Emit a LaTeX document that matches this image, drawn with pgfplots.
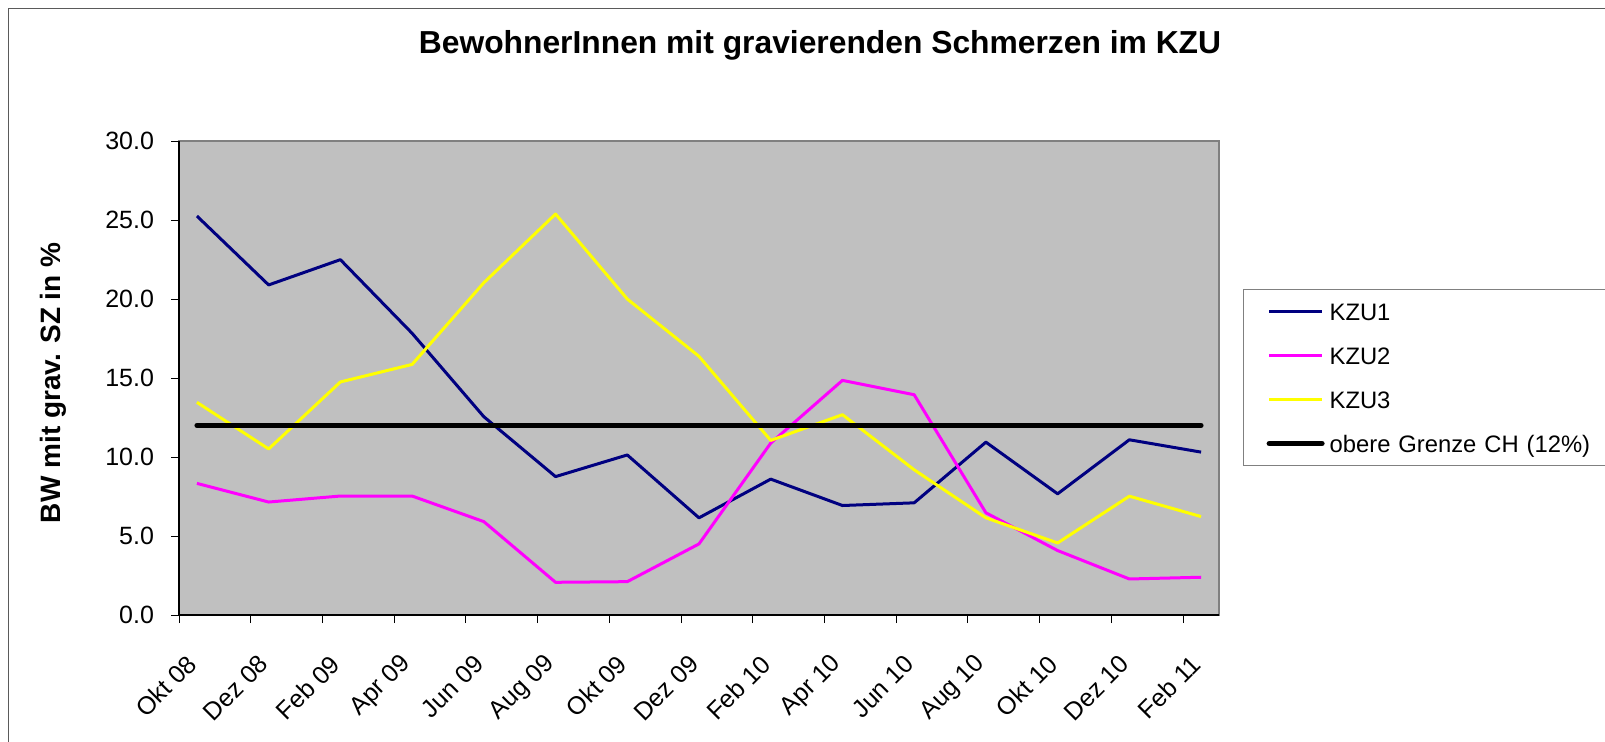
\documentclass[border=0pt]{standalone}
\usepackage{pgfplots}
\pgfplotsset{compat=1.18}
\usepackage{fontspec}
\setmainfont{Liberation Sans}
\definecolor{kzuone}{RGB}{0,0,128}
\definecolor{kzutwo}{RGB}{255,0,255}
\definecolor{kzuthree}{RGB}{255,255,0}
\definecolor{plotbg}{RGB}{192,192,192}
\definecolor{framegray}{RGB}{128,128,128}
\definecolor{outergray}{RGB}{90,90,90}
\begin{document}
\begin{tikzpicture}
\draw[outergray, line width=0.6pt] (4.15pt,-5pt) -- (4.15pt,366.35pt) -- (810pt,366.35pt);
\node[font=\bfseries\fontsize{15.9}{19}\selectfont] at (410pt,348pt) {BewohnerInnen mit gravierenden Schmerzen im KZU};
\begin{axis}[
  at={(89.5pt,63pt)}, anchor=south west,
  width=520pt, height=237pt, scale only axis,
  xmin=0, xmax=29, ymin=0, ymax=30,
  axis background/.style={fill=plotbg, draw=framegray, line width=1pt},
  axis x line*=bottom, axis y line*=left,
  axis line style={black, line width=0.8pt},
  tick align=outside, major tick length=4pt,
  tick style={black, line width=0.5pt},
  xtick={0,2,...,28}, xticklabels={},
  extra x ticks={0.5,2.5,...,28.5},
  extra x tick labels={Okt 08,Dez 08,Feb 09,Apr 09,Jun 09,Aug 09,Okt 09,Dez 09,Feb 10,Apr 10,Jun 10,Aug 10,Okt 10,Dez 10,Feb 11},
  extra x tick style={major tick length=0pt, tick style={draw=none}, xticklabel style={yshift=-20pt, rotate=45, anchor=east}},
  ytick={0,5,...,30},
  tick label style={font=\fontsize{12.5}{15}\selectfont},
  yticklabel style={xshift=-5pt, /pgf/number format/.cd, fixed, fixed zerofill, precision=1},
  /pgf/number format/assume math mode=true,
  every axis y label/.style={at={(axis description cs:-0.1212,0.49)}, rotate=90, anchor=center, font=\bfseries\fontsize{14}{17}\selectfont},
  ylabel={BW mit grav. SZ in \%},
  legend cell align=left,
  legend image code/.code={\draw[#1] (0pt,0pt) -- (26.5pt,0pt);},
  legend style={at={(1.0231,0.6878)}, anchor=north west, draw=framegray, line width=0.6pt, fill=white,
    inner xsep=11.5pt, inner ysep=0pt, row sep=0pt, column sep=2.5pt,
    font=\fontsize{11.9}{14}\selectfont,
    nodes={inner sep=0pt, minimum height=22pt, text height=8.6pt, text depth=0pt, text width=150pt, anchor=west}},
]
\addplot[kzuone, line width=1.5pt, line join=round] coordinates {
(0.5,25.25) (2.5,20.89) (4.5,22.49) (6.5,17.83) (8.5,12.55) (10.5,8.76) (12.5,10.13) (14.5,6.15) (16.5,8.60) (18.5,6.93) (20.5,7.10) (22.5,10.94) (24.5,7.67) (26.5,11.09) (28.5,10.31)};
\addlegendentry{KZU1}
\addplot[kzutwo, line width=1.5pt, line join=round] coordinates {
(0.5,8.33) (2.5,7.15) (4.5,7.53) (6.5,7.53) (8.5,5.91) (10.5,2.07) (12.5,2.11) (14.5,4.50) (16.5,10.88) (18.5,14.85) (20.5,13.94) (22.5,6.47) (24.5,4.08) (26.5,2.28) (28.5,2.39)};
\addlegendentry{KZU2}
\addplot[kzuthree, line width=1.5pt, line join=round] coordinates {
(0.5,13.46) (2.5,10.51) (4.5,14.75) (6.5,15.86) (8.5,21.03) (10.5,25.38) (12.5,20.0) (14.5,16.37) (16.5,11.05) (18.5,12.68) (20.5,9.19) (22.5,6.15) (24.5,4.56) (26.5,7.52) (28.5,6.23)};
\addlegendentry{KZU3}
\addplot[black, line width=2.5pt, line cap=round] coordinates {(0.5,12) (28.5,12)};
\addlegendentry{obere Grenze CH (12\%)}
\end{axis}
\pgfresetboundingbox
\path[use as bounding box] (0pt,0pt) rectangle (802.5pt,370.5pt);
\end{tikzpicture}
\end{document}
